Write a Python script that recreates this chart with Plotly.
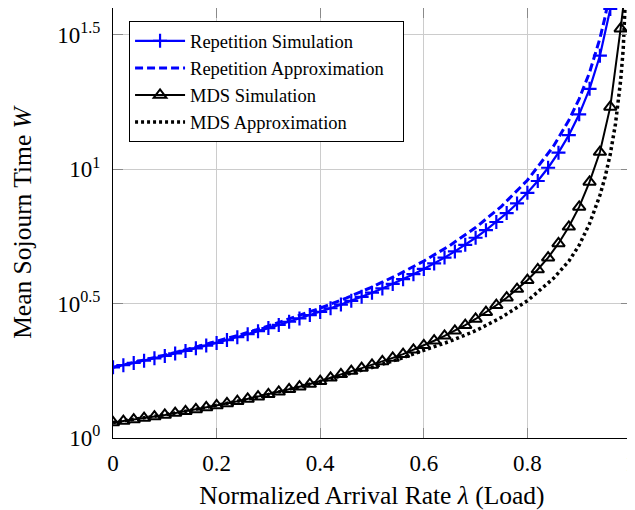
import plotly.graph_objects as go

# ---------------- data ----------------
x_rep_sim = [0.00, 0.02, 0.04, 0.06, 0.08, 0.10, 0.12, 0.14, 0.16, 0.18,
             0.20, 0.22, 0.24, 0.26, 0.28, 0.30, 0.32, 0.34, 0.36, 0.38,
             0.40, 0.42, 0.44, 0.46, 0.48, 0.50, 0.52, 0.54, 0.56, 0.58,
             0.60, 0.62, 0.64, 0.66, 0.68, 0.70, 0.72, 0.74, 0.76, 0.78,
             0.80, 0.82, 0.84, 0.86, 0.88, 0.90, 0.92, 0.94, 0.96]
w_rep_sim = [1.832, 1.866, 1.902, 1.940, 1.979, 2.020, 2.064, 2.109, 2.157, 2.207,
             2.259, 2.315, 2.372, 2.433, 2.497, 2.564, 2.634, 2.708, 2.785, 2.866,
             2.945, 3.040, 3.136, 3.240, 3.352, 3.472, 3.603, 3.745, 3.899, 4.069,
             4.256, 4.462, 4.691, 4.947, 5.235, 5.561, 5.934, 6.364, 6.867, 7.460,
             8.172, 9.042, 10.13, 11.53, 13.39, 16.01, 19.92, 26.45, 39.50]

x_rep_apx = [0.00, 0.05, 0.10, 0.15, 0.20, 0.25, 0.30, 0.35, 0.40, 0.45,
             0.50, 0.55, 0.60, 0.65, 0.70, 0.75, 0.80, 0.85, 0.88, 0.90,
             0.92, 0.94, 0.95, 0.96, 0.97]
w_rep_apx = [1.832, 1.927, 2.034, 2.153, 2.286, 2.437, 2.610, 2.809, 3.042, 3.316,
             3.646, 4.049, 4.553, 5.200, 6.067, 7.280, 9.105, 12.15, 15.22, 18.29,
             22.91, 30.67, 36.90, 46.25, 61.80]

x_mds_sim = [0.00, 0.02, 0.04, 0.06, 0.08, 0.10, 0.12, 0.14, 0.16, 0.18,
             0.20, 0.22, 0.24, 0.26, 0.28, 0.30, 0.32, 0.34, 0.36, 0.38,
             0.40, 0.42, 0.44, 0.46, 0.48, 0.50, 0.52, 0.54, 0.56, 0.58,
             0.60, 0.62, 0.64, 0.66, 0.68, 0.70, 0.72, 0.74, 0.76, 0.78,
             0.80, 0.82, 0.84, 0.86, 0.88, 0.90, 0.92, 0.94, 0.96, 0.98, 1.00]
w_mds_sim = [1.143, 1.156, 1.171, 1.186, 1.202, 1.219, 1.238, 1.257, 1.277, 1.299,
             1.321, 1.345, 1.370, 1.397, 1.425, 1.454, 1.485, 1.518, 1.552, 1.588,
             1.626, 1.675, 1.726, 1.774, 1.820, 1.871, 1.928, 1.986, 2.051, 2.128,
             2.213, 2.301, 2.399, 2.506, 2.630, 2.773, 2.938, 3.119, 3.327, 3.581,
             3.864, 4.236, 4.688, 5.297, 6.109, 7.244, 8.974, 11.59, 17.06, 33.34, 70.8]

x_mds_apx = [0.00, 0.05, 0.10, 0.15, 0.20, 0.25, 0.30, 0.35, 0.40, 0.45,
             0.50, 0.55, 0.60, 0.65, 0.70, 0.75, 0.80, 0.85, 0.88, 0.90,
             0.92, 0.94, 0.95, 0.96, 0.97, 0.98, 0.985, 0.99, 0.995]
w_mds_apx = [1.143, 1.179, 1.221, 1.268, 1.321, 1.381, 1.451, 1.531, 1.623, 1.722,
             1.830, 1.962, 2.125, 2.289, 2.507, 2.812, 3.240, 3.920, 4.550, 5.220,
             6.275, 8.000, 9.360, 11.38, 14.73, 21.40, 28.00, 41.00, 80.0]

x_tickvals = [0, 0.2, 0.4, 0.6, 0.8, 1]
x_ticktext = ["0", "0.2", "0.4", "0.6", "0.8", "1"]
y_tickvals = [1, 3.16228, 10, 31.6228]
y_ticktext = ["10<sup>0</sup>", "10<sup>0.5</sup>", "10<sup>1</sup>", "10<sup>1.5</sup>"]

names = ["Repetition Simulation", "Repetition Approximation\u00a0\u00a0\u00a0",
         "MDS Simulation", "MDS Approximation"]

FONT = "Liberation Serif, Times New Roman, serif"
BLUE = "#0000ff"

fig = go.Figure()
fig.add_trace(go.Scatter(
    x=x_rep_sim, y=w_rep_sim, mode="lines+markers", name=names[0],
    line=dict(color=BLUE, width=2.2),
    marker=dict(symbol="cross-thin", size=10, color=BLUE,
                line=dict(color=BLUE, width=2.2))))
fig.add_trace(go.Scatter(
    x=x_rep_apx, y=w_rep_apx, mode="lines", name=names[1],
    line=dict(color=BLUE, width=3, dash="8px,4px")))
fig.add_trace(go.Scatter(
    x=x_mds_sim, y=w_mds_sim, mode="lines+markers", name=names[2],
    line=dict(color="black", width=2),
    marker=dict(symbol="triangle-up-open", size=11, color="black",
                line=dict(color="black", width=2))))
fig.add_trace(go.Scatter(
    x=x_mds_apx, y=w_mds_apx, mode="lines", name=names[3],
    line=dict(color="black", width=3.5, dash="3px,3px")))

axis_common = dict(
    showline=True, linecolor="black", linewidth=1, mirror="allticks",
    ticks="inside", ticklen=10, tickcolor="#8a8a8a", tickwidth=1,
    showgrid=True, gridcolor="#cccccc", gridwidth=1, zeroline=False,
    automargin=False, ticklabeloverflow="allow",
    tickfont=dict(family=FONT, size=23, color="black"),
)

# The page body adds an 8px offset; the figure is sized to fill the
# remaining 627x502 so the plot area lands where the reference has it.
fig.update_layout(
    width=627, height=502,
    margin=dict(l=105, r=4, t=0, b=72),
    paper_bgcolor="white", plot_bgcolor="white",
    font=dict(family=FONT, color="black"),
    showlegend=True,
    legend=dict(
        x=0.031, y=0.969, xanchor="left", yanchor="top",
        bgcolor="white", bordercolor="black", borderwidth=1,
        font=dict(family=FONT, size=18.5, color="black"),
        itemwidth=50,
    ),
    xaxis=dict(
        range=[0, 1], tickvals=x_tickvals, ticktext=x_ticktext,
        ticklabelstandoff=4,
        title=dict(text="Normalized Arrival Rate <i>λ</i> (Load)",
                   font=dict(family=FONT, size=25.5, color="black"), standoff=17),
        **axis_common),
    yaxis=dict(
        type="log", range=[0, 1.6], tickvals=y_tickvals, ticktext=y_ticktext,
        ticklabelstandoff=7,
        title=dict(text="Mean Sojourn Time <i>W</i>",
                   font=dict(family=FONT, size=25.5, color="black"), standoff=20),
        **axis_common),
)

fig.write_html("out.html")
